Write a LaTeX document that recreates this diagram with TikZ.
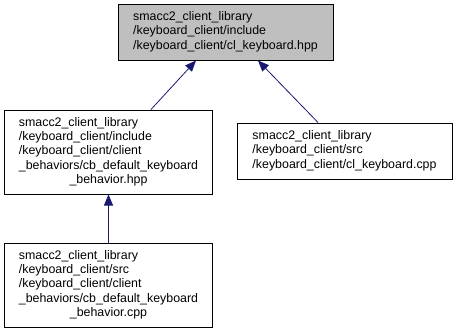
\documentclass[tikz,border=0pt]{standalone}
\usepackage{fontspec}
\setmainfont{Liberation Sans}
\usetikzlibrary{arrows.meta}
\definecolor{edgeblue}{RGB}{25,25,112}
\definecolor{nodegray}{RGB}{191,191,191}
\tikzset{
  filebox/.style={draw=black, line width=1pt, fill=white, inner sep=0pt,
    font=\fontsize{12.4}{14.2}\selectfont, minimum width=#1},
  filebox/.default=215pt,
  dep/.style={draw=edgeblue, line width=0.8pt,
    -{Triangle[length=11pt,width=9pt]}},
}
\newcommand{\filelines}[2]{\begin{tabular}{@{}l@{}}#1\end{tabular}}
\begin{document}
\begin{tikzpicture}[x=1pt,y=-1pt]
  \useasboundingbox (0,0) rectangle (456,333);
  \node[filebox, fill=nodegray, minimum height=56pt] (top) at (225.5,32)
    {\begin{tabular}{@{}l@{}}smacc2\_client\_library\\/keyboard\_client/include\\/keyboard\_client/cl\_keyboard.hpp\end{tabular}};
  \node[filebox=208pt, minimum height=84pt] (ml) at (108.5,152)
    {\begin{tabular}{@{}l@{}}smacc2\_client\_library\\/keyboard\_client/include\\/keyboard\_client/client\\\_behaviors/cb\_default\_keyboard\\\multicolumn{1}{@{}c@{}}{\_behavior.hpp}\end{tabular}};
  \node[filebox, minimum height=56pt] (mr) at (344.5,151)
    {\begin{tabular}{@{}l@{}}smacc2\_client\_library\\/keyboard\_client/src\\/keyboard\_client/cl\_keyboard.cpp\end{tabular}};
  \node[filebox=208pt, minimum height=84pt] (bot) at (108.5,285)
    {\begin{tabular}{@{}l@{}}smacc2\_client\_library\\/keyboard\_client/src\\/keyboard\_client/client\\\_behaviors/cb\_default\_keyboard\\\multicolumn{1}{@{}c@{}}{\_behavior.cpp}\end{tabular}};
  \draw[dep] ([xshift=42.5pt]ml.north) -- ([xshift=-29.5pt]top.south);
  \draw[dep] ([xshift=-26.5pt]mr.north) -- ([xshift=32.5pt]top.south);
  \draw[dep] (bot.north) -- (ml.south);
\end{tikzpicture}
\end{document}
